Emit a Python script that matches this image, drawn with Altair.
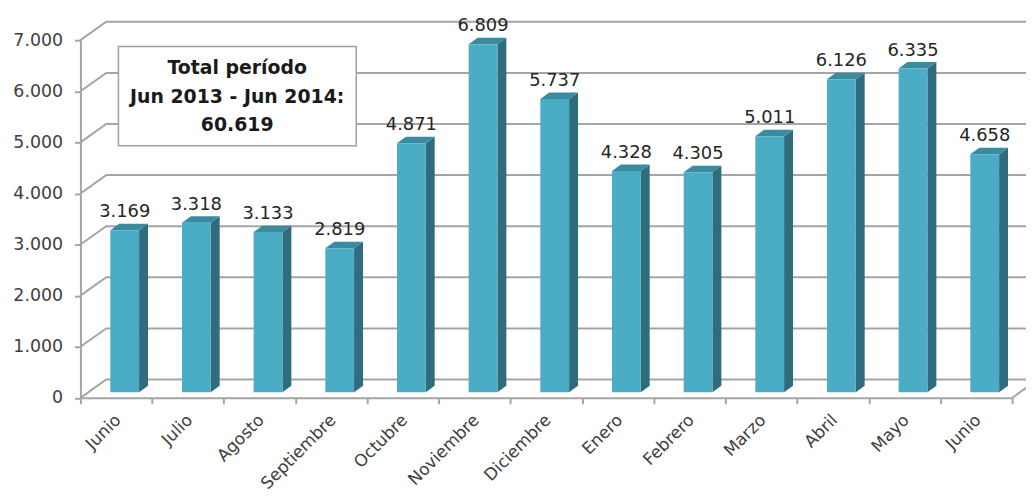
import altair as alt
import pandas as pd

# ---- data ----
months = ["Junio", "Julio", "Agosto", "Septiembre", "Octubre", "Noviembre", "Diciembre",
          "Enero", "Febrero", "Marzo", "Abril", "Mayo", "Junio"]
values = [3169, 3318, 3133, 2819, 4871, 6809, 5737, 4328, 4305, 5011, 6126, 6335, 4658]
y_ticks = [0, 1000, 2000, 3000, 4000, 5000, 6000, 7000]
box_lines = ["Total período", "Jun 2013 - Jun 2014:"]

# ---- geometry (pixels -> data units) ----
W, H = 939, 360.5
N = len(months)
YMAX = 7000
PX = W / N          # px per category unit
PY = H / YMAX       # px per value unit

DEPTH_X, DEPTH_Y = 26 / PX, 18.5 / PY     # wall depth
BAR_X, BAR_Y = 9 / PX, 6.5 / PY           # bar depth
BASE = 5.7 / PY
FACE_L, FACE_R = -6 / PX, 23 / PX


def fmt(v):
    return f"{v:,}".replace(",", ".")


xs = alt.Scale(domain=[0, N], nice=False, zero=False)
ys = alt.Scale(domain=[0, YMAX], nice=False, zero=False)

GRID = "#a5a5a5"

# back wall grid lines with perspective
grid_rows = []
for v in y_ticks:
    grid_rows += [
        {"g": f"g{v}", "o": 0, "x": 0, "y": v},
        {"g": f"g{v}", "o": 1, "x": DEPTH_X, "y": v + DEPTH_Y},
        {"g": f"g{v}", "o": 2, "x": N + 3 * DEPTH_X, "y": v + DEPTH_Y},
    ]
grid_rows += [
    {"g": "floor_r", "o": 0, "x": N, "y": 0},
    {"g": "floor_r", "o": 1, "x": N + DEPTH_X, "y": DEPTH_Y},
]
grid_df = pd.DataFrame(grid_rows)

grid = alt.Chart(grid_df).mark_line(color=GRID, strokeWidth=2).encode(
    x=alt.X("x:Q", scale=xs, title=None,
            axis=alt.Axis(values=list(range(N + 1)), labels=False, grid=False,
                          domainColor=GRID, domainWidth=2, tickColor=GRID,
                          tickWidth=2, tickSize=6)),
    y=alt.Y("y:Q", scale=ys, title=None,
            axis=alt.Axis(values=y_ticks, grid=False,
                          labelExpr="replace(format(datum.value, ','), ',', '.')",
                          domainColor=GRID, domainWidth=2, tickColor=GRID,
                          tickWidth=2, tickSize=6, labelPadding=12,
                          labelFont="DejaVu Sans", labelFontSize=17.5,
                          labelColor="#404040")),
    detail="g:N",
    order="o:Q",
)

# text box
box_df = pd.DataFrame({"total": [sum(values)]})
box = alt.Chart(box_df).mark_rect(fill="white", stroke="#a0a0a0", strokeWidth=1.5).encode(
    x=alt.value(38.3), x2=alt.value(278), y=alt.value(6.5), y2=alt.value(106.5)
)
box_text = alt.Chart(box_df).mark_text(
    text=box_lines + [fmt(sum(values))], font="DejaVu Sans", fontWeight="bold",
    fontSize=19, lineHeight=28.5, align="center", baseline="alphabetic", color="#1a1a1a"
).encode(x=alt.value(158), y=alt.value(34.5))

# bars
rows_front, rows_side, rows_top, rows_lab = [], [], [], []
for i, (m, v) in enumerate(zip(months, values)):
    c = i + 0.5
    rows_front.append({"i": i, "x": c + FACE_L, "x2": c + FACE_R, "y": v + BASE, "y2": BASE})
    rows_side += [
        {"i": i, "x": c + FACE_R, "y": v + BASE, "y2": BASE},
        {"i": i, "x": c + FACE_R + BAR_X, "y": v + BASE + BAR_Y, "y2": BASE + BAR_Y},
    ]
    rows_top += [
        {"i": i, "y": v + BASE, "x": c + FACE_L, "x2": c + FACE_R},
        {"i": i, "y": v + BASE + BAR_Y, "x": c + FACE_L + BAR_X, "x2": c + FACE_R + BAR_X},
    ]
    rows_lab.append({"i": i, "month": m, "c": c, "lx": c + (FACE_L + FACE_R) / 2,
                     "ly": v + BASE + 13 / PY, "label": fmt(v), "zero": 0})

front = alt.Chart(pd.DataFrame(rows_front)).mark_rect(color="#4bacc6").encode(
    x=alt.X("x:Q", scale=xs), x2="x2:Q",
    y=alt.Y("y:Q", scale=ys), y2="y2:Q",
)
side = alt.Chart(pd.DataFrame(rows_side)).mark_area(color="#2f6c7d", orient="vertical").encode(
    x=alt.X("x:Q", scale=xs), y=alt.Y("y:Q", scale=ys), y2="y2:Q", detail="i:N"
)
top = alt.Chart(pd.DataFrame(rows_top)).mark_area(color="#3a8aa0", orient="horizontal").encode(
    y=alt.Y("y:Q", scale=ys), x=alt.X("x:Q", scale=xs), x2="x2:Q", detail="i:N"
)

lab_df = pd.DataFrame(rows_lab)
labels = alt.Chart(lab_df).mark_text(
    font="DejaVu Sans", fontSize=18, color="#262626", align="center", baseline="alphabetic"
).encode(x=alt.X("lx:Q", scale=xs), y=alt.Y("ly:Q", scale=ys), text="label:N")

mlabels = alt.Chart(lab_df).mark_text(
    font="DejaVu Sans", fontSize=17, color="#404040", align="right", baseline="middle",
    angle=315, yOffset=20, xOffset=2
).encode(x=alt.X("c:Q", scale=xs), y=alt.Y("zero:Q", scale=ys), text="month:N")

chart = alt.layer(grid, box, box_text, side, top, front, labels, mlabels).properties(
    width=W, height=H,
    autosize=alt.AutoSizeParams(type="none"),
    padding={"left": 73, "top": 30.5, "right": 14, "bottom": 96},
).configure_view(stroke=None).configure_axis(labelFont="DejaVu Sans")

chart.save("out.html", embed_options={"renderer": "svg", "actions": False})
